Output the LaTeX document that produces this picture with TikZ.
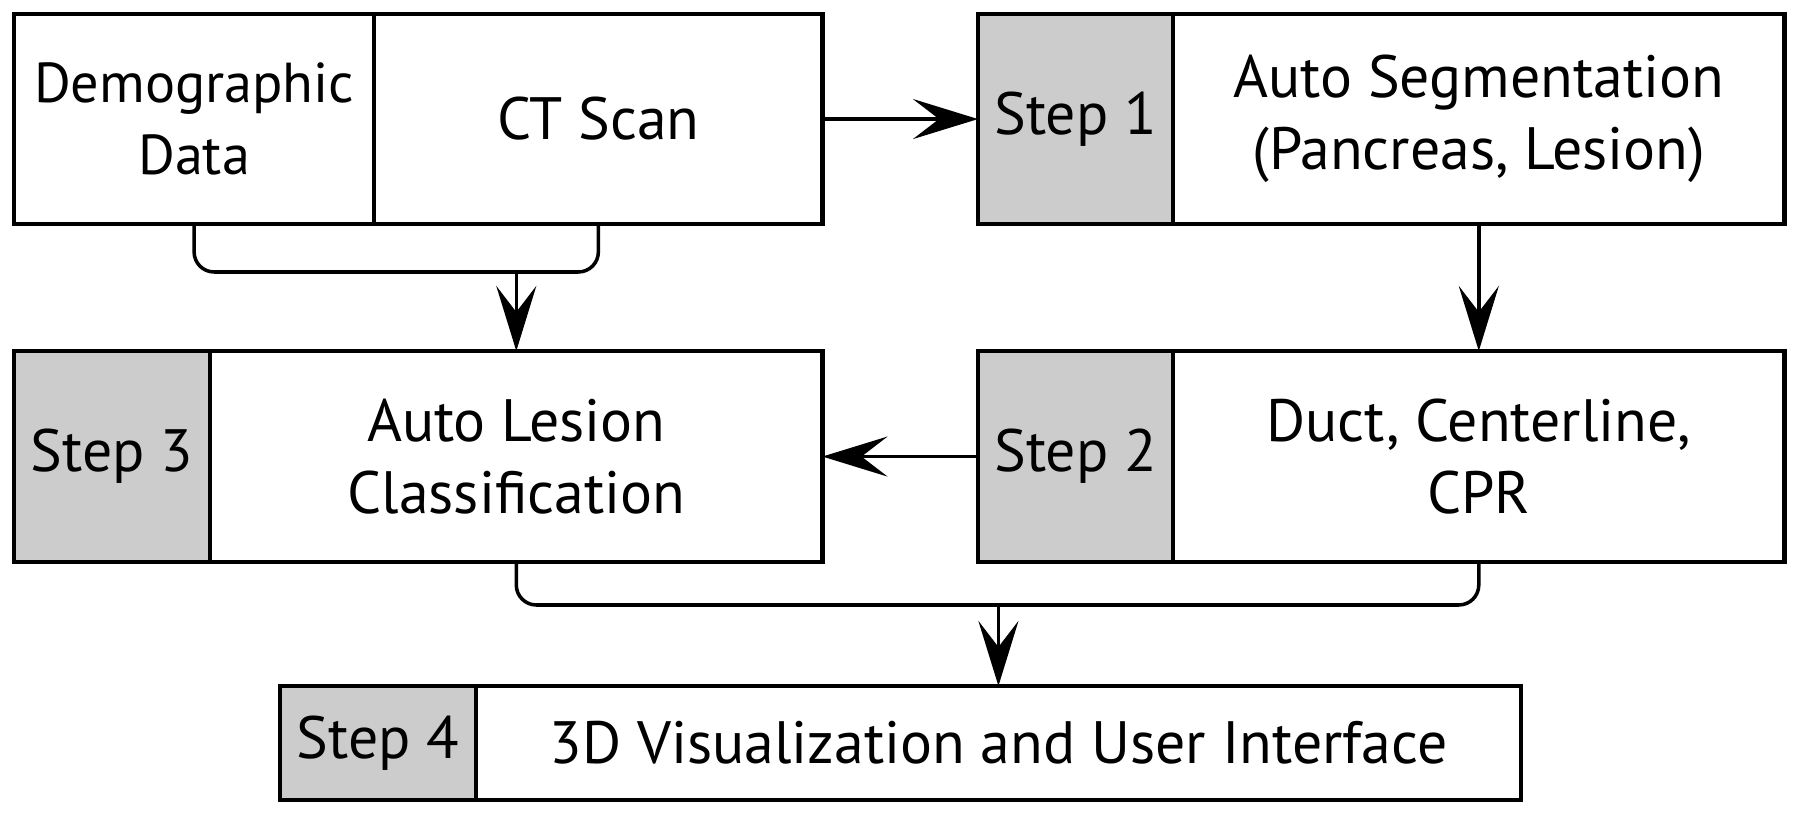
\documentclass[tikz,border=0pt]{standalone}
\usepackage{fontspec}
\setmainfont{PT Sans}
\usetikzlibrary{arrows.meta,positioning}

\tikzset{
  box/.style={draw, line width=1.2pt, outer sep=0pt, inner sep=2pt, align=center,
    font=\fontsize{17}{20.5}\selectfont},
  stepbox/.style={box, fill=black!20},
  link/.style={line width=1pt, -{Stealth[length=6.5mm, width=4mm, inset=2.6mm]}},
  wire/.style={line width=1pt, rounded corners=2mm},
}

\begin{document}
\begin{tikzpicture}[x=0.01cm, y=-0.01cm]
  \useasboundingbox (0,0) rectangle (1800,816);

  % --------------------
  % Inputs
  % --------------------
  \node[box, anchor=north west, minimum width=3.6cm, minimum height=2.1cm,
    font=\fontsize{16}{20.5}\selectfont] (demo) at (14,14) {Demographic\\Data};
  \node[box, right=0pt of demo, minimum width=4.48cm, minimum height=2.1cm] (ct) {CT Scan};

  % --------------------
  % Step 1 and Step 2
  % --------------------
  \node[stepbox, anchor=north west, minimum width=1.95cm, minimum height=2.1cm] (s1) at (978,14) {Step 1};
  \node[box, right=0pt of s1, minimum width=6.11cm, minimum height=2.1cm] (seg) {Auto Segmentation\\(Pancreas, Lesion)};

  \node[stepbox, anchor=north west, minimum width=1.95cm, minimum height=2.11cm] (s2) at (978,351) {Step 2};
  \node[box, right=0pt of s2, minimum width=6.11cm, minimum height=2.11cm] (duct) {Duct, Centerline,\\CPR};

  % --------------------
  % Step 3
  % --------------------
  \node[stepbox, anchor=north west, minimum width=1.96cm, minimum height=2.11cm] (s3) at (14,351) {Step 3};
  \node[box, right=0pt of s3, minimum width=6.12cm, minimum height=2.11cm] (cls) {Auto Lesion\\Classification};

  % --------------------
  % Step 4
  % --------------------
  \node[stepbox, anchor=north west, minimum width=1.96cm, minimum height=1.14cm] (s4) at (280,686) {Step 4};
  \node[box, right=0pt of s4, minimum width=10.44cm, minimum height=1.14cm] (ui) {3D Visualization and User Interface};

  % --------------------
  % Connectors
  % --------------------
  \coordinate (j1) at (cls.north |- 0,272);
  \coordinate (j2) at (ui.north |- 0,605);

  \draw[link] (ct) -- (s1);
  \draw[link] (seg) -- (duct);
  \draw[link] (s2) -- (cls);

  \draw[wire] (demo.south) |- (j1) -| (ct.south);
  \draw[link] (j1) -- (cls);

  \draw[wire] (cls.south) |- (j2) -| (duct.south);
  \draw[link] (j2) -- (ui);
\end{tikzpicture}
\end{document}
